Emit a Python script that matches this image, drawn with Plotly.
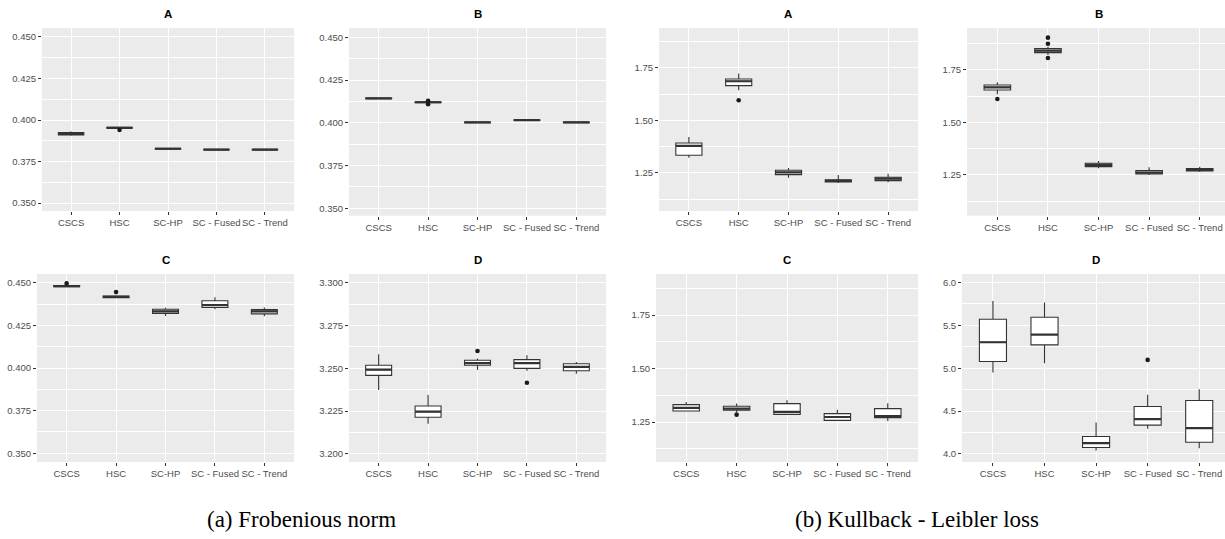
import plotly.graph_objects as go

# Methods compared in every panel
METHODS = ["CSCS", "HSC", "SC-HP", "SC - Fused", "SC - Trend"]

# ---- (a) Frobenious norm -------------------------------------------------
# Panel A
FA_LO  = [0.3905, 0.3948, 0.3822, 0.3817, 0.3817]
FA_Q1  = [0.3910, 0.3950, 0.3824, 0.3819, 0.3819]
FA_MED = [0.3917, 0.3953, 0.3827, 0.3821, 0.3821]
FA_Q3  = [0.3925, 0.3956, 0.3830, 0.3823, 0.3823]
FA_HI  = [0.3930, 0.3958, 0.3832, 0.3825, 0.3825]
FA_OUT_X = ["HSC"]
FA_OUT_Y = [0.3940]

# Panel B
FB_LO  = [0.4139, 0.4113, 0.3999, 0.4012, 0.3999]
FB_Q1  = [0.4141, 0.4117, 0.4001, 0.4014, 0.4001]
FB_MED = [0.4143, 0.4120, 0.4003, 0.4016, 0.4003]
FB_Q3  = [0.4145, 0.4123, 0.4005, 0.4018, 0.4005]
FB_HI  = [0.4147, 0.4127, 0.4007, 0.4020, 0.4007]
FB_OUT_X = ["HSC", "HSC"]
FB_OUT_Y = [0.4109, 0.4128]

# Panel C
FC_LO  = [0.4474, 0.4409, 0.4305, 0.4344, 0.4303]
FC_Q1  = [0.4477, 0.4412, 0.4320, 0.4355, 0.4317]
FC_MED = [0.4480, 0.4417, 0.4332, 0.4369, 0.4332]
FC_Q3  = [0.4483, 0.4422, 0.4344, 0.4394, 0.4342]
FC_HI  = [0.4486, 0.4425, 0.4353, 0.4414, 0.4355]
FC_OUT_X = ["CSCS", "HSC"]
FC_OUT_Y = [0.4496, 0.4445]

# Panel D
FD_LO  = [3.2374, 3.2177, 3.2490, 3.2486, 3.2469]
FD_Q1  = [3.2459, 3.2214, 3.2518, 3.2500, 3.2486]
FD_MED = [3.2492, 3.2247, 3.2531, 3.2531, 3.2508]
FD_Q3  = [3.2518, 3.2280, 3.2547, 3.2551, 3.2527]
FD_HI  = [3.2582, 3.2344, 3.2558, 3.2576, 3.2537]
FD_OUT_X = ["SC-HP", "SC - Fused"]
FD_OUT_Y = [3.2601, 3.2416]

# ---- (b) Kullback - Leibler loss ----------------------------------------
# Panel A
KA_LO  = [1.3230, 1.6437, 1.2278, 1.2024, 1.2056]
KA_Q1  = [1.3341, 1.6659, 1.2421, 1.2075, 1.2135]
KA_MED = [1.3786, 1.6865, 1.2532, 1.2120, 1.2230]
KA_Q3  = [1.3929, 1.6976, 1.2627, 1.2170, 1.2294]
KA_HI  = [1.4214, 1.7230, 1.2738, 1.2405, 1.2468]
KA_OUT_X = ["HSC"]
KA_OUT_Y = [1.5960]

# Panel B
KB_LO  = [1.6341, 1.8210, 1.2817, 1.2500, 1.2643]
KB_Q1  = [1.6548, 1.8325, 1.2897, 1.2548, 1.2690]
KB_MED = [1.6675, 1.8421, 1.2976, 1.2611, 1.2738]
KB_Q3  = [1.6786, 1.8516, 1.3056, 1.2706, 1.2802]
KB_HI  = [1.6913, 1.8610, 1.3167, 1.2865, 1.2897]
KB_OUT_X = ["CSCS", "HSC", "HSC", "HSC"]
KB_OUT_Y = [1.6119, 1.9040, 1.8750, 1.8070]

# Panel C
KC_LO  = [1.3016, 1.2970, 1.2859, 1.2547, 1.2547]
KC_Q1  = [1.3016, 1.3047, 1.2859, 1.2578, 1.2703]
KC_MED = [1.3156, 1.3125, 1.2969, 1.2734, 1.2781]
KC_Q3  = [1.3313, 1.3234, 1.3359, 1.2891, 1.3125]
KC_HI  = [1.3438, 1.3360, 1.3516, 1.3078, 1.3375]
KC_OUT_X = ["HSC"]
KC_OUT_Y = [1.2844]

# Panel D
KD_LO  = [4.949, 5.058, 4.039, 4.292, 4.066]
KD_Q1  = [5.078, 5.272, 4.074, 4.335, 4.136]
KD_MED = [5.303, 5.393, 4.125, 4.405, 4.300]
KD_Q3  = [5.572, 5.595, 4.202, 4.553, 4.623]
KD_HI  = [5.786, 5.767, 4.366, 4.689, 4.755]
KD_OUT_X = ["SC - Fused"]
KD_OUT_Y = [5.097]

W, H = 1225, 539
BOX_LINE = "#333333"
TICK_TXT = "#4D4D4D"
BG = "#EBEBEB"

# panel stats, title, and frame: (left, right, top, bottom) in px, x range, y range, y step, y tick format
panels = [
    ((FA_LO, FA_Q1, FA_MED, FA_Q3, FA_HI, FA_OUT_X, FA_OUT_Y), "A",
     (42, 294, 28, 211), [-0.6, 4.6], [0.3452, 0.4554], 0.025, 0.35, ".3f"),
    ((FB_LO, FB_Q1, FB_MED, FB_Q3, FB_HI, FB_OUT_X, FB_OUT_Y), "B",
     (349, 606, 28, 215.7), [-0.6, 4.6], [0.3457, 0.4554], 0.025, 0.35, ".3f"),
    ((FC_LO, FC_Q1, FC_MED, FC_Q3, FC_HI, FC_OUT_X, FC_OUT_Y), "C",
     (37, 294, 274, 462), [-0.6, 4.6], [0.3449, 0.4551], 0.025, 0.35, ".3f"),
    ((FD_LO, FD_Q1, FD_MED, FD_Q3, FD_HI, FD_OUT_X, FD_OUT_Y), "D",
     (349, 606, 274, 462), [-0.6, 4.6], [3.1953, 3.3051], 0.025, 3.2, ".3f"),
    ((KA_LO, KA_Q1, KA_MED, KA_Q3, KA_HI, KA_OUT_X, KA_OUT_Y), "A",
     (659, 918, 28, 211), [-0.6, 4.6], [1.069, 1.940], 0.25, 1.25, ".2f"),
    ((KB_LO, KB_Q1, KB_MED, KB_Q3, KB_HI, KB_OUT_X, KB_OUT_Y), "B",
     (967, 1225, 28, 215.7), [-0.6, 4.5], [1.056, 1.950], 0.25, 1.25, ".2f"),
    ((KC_LO, KC_Q1, KC_MED, KC_Q3, KC_HI, KC_OUT_X, KC_OUT_Y), "C",
     (656, 918, 274, 462), [-0.6, 4.6], [1.063, 1.942], 0.25, 1.25, ".2f"),
    ((KD_LO, KD_Q1, KD_MED, KD_Q3, KD_HI, KD_OUT_X, KD_OUT_Y), "D",
     (962, 1225, 274, 462), [-0.6, 4.5], [3.905, 6.100], 0.5, 4.0, ".1f"),
]

fig = go.Figure()
layout = dict(
    width=W, height=H, margin=dict(l=0, r=0, t=0, b=0),
    paper_bgcolor="white", plot_bgcolor=BG, showlegend=False,
    boxgap=0.25, boxmode="overlay",
    font=dict(family="Liberation Sans, Arial, sans-serif"),
)
annotations = []

for i, (stats, title, frame, xr, yr, step, t0, fmt) in enumerate(panels, start=1):
    lo, q1, med, q3, hi, ox, oy = stats
    left, right, top, bottom = frame
    xa = "x" if i == 1 else f"x{i}"
    ya = "y" if i == 1 else f"y{i}"

    # box with whiskers
    fig.add_trace(go.Box(
        x=METHODS, q1=q1, median=med, q3=q3, lowerfence=lo, upperfence=hi,
        orientation="v", boxpoints=False, whiskerwidth=0,
        fillcolor="white", line=dict(color=BOX_LINE, width=1.1),
        xaxis=xa, yaxis=ya, hoverinfo="skip",
    ))
    # heavier median stroke
    fig.add_trace(go.Box(
        x=METHODS, q1=med, median=med, q3=med, lowerfence=med, upperfence=med,
        orientation="v", boxpoints=False, whiskerwidth=0,
        fillcolor="rgba(0,0,0,0)", line=dict(color=BOX_LINE, width=2.2),
        xaxis=xa, yaxis=ya, hoverinfo="skip",
    ))
    # outlying observations
    fig.add_trace(go.Scatter(
        x=ox, y=oy, mode="markers",
        marker=dict(size=4.6, color="#1A1A1A"),
        xaxis=xa, yaxis=ya, hoverinfo="skip",
    ))

    xkey = "xaxis" if i == 1 else f"xaxis{i}"
    ykey = "yaxis" if i == 1 else f"yaxis{i}"
    layout[xkey] = dict(
        domain=[left / W, right / W], anchor=ya,
        type="category", categoryorder="array", categoryarray=METHODS,
        range=xr, showgrid=True, gridcolor="white", gridwidth=1.1,
        zeroline=False, showline=False,
        ticks="outside", ticklen=3, tickwidth=1, tickcolor=BOX_LINE,
        tickangle=0, tickfont=dict(size=9.5, color=TICK_TXT),
    )
    layout[ykey] = dict(
        domain=[1 - bottom / H, 1 - top / H], anchor=xa,
        range=yr, tick0=t0, dtick=step, tickformat=fmt,
        showgrid=True, gridcolor="white", gridwidth=1.1,
        minor=dict(showgrid=True, gridcolor="white", gridwidth=0.55,
                   tick0=t0, dtick=step / 2),
        zeroline=False, showline=False,
        ticks="outside", ticklen=3, tickwidth=1, tickcolor=BOX_LINE,
        tickfont=dict(size=9.5, color=TICK_TXT),
    )
    annotations.append(dict(
        text=f"<b>{title}</b>", xref="paper", yref="paper",
        x=(left + min(right, 1230)) / 2 / W if right < W else (left + 1230) / 2 / W,
        y=1 - (top - 6) / H, xanchor="center", yanchor="bottom",
        showarrow=False, font=dict(size=11.5, color="black"),
    ))

# sub-figure captions
for text, cx in [("(a) Frobenious norm", 301), ("(b) Kullback - Leibler loss", 917)]:
    annotations.append(dict(
        text=text, xref="paper", yref="paper", x=cx / W, y=1 - 519 / H,
        xanchor="center", yanchor="middle", showarrow=False,
        font=dict(family="Liberation Serif, Times New Roman, serif", size=23, color="black"),
    ))

layout["annotations"] = annotations
fig.update_layout(**layout)
fig.write_html("out.html")
